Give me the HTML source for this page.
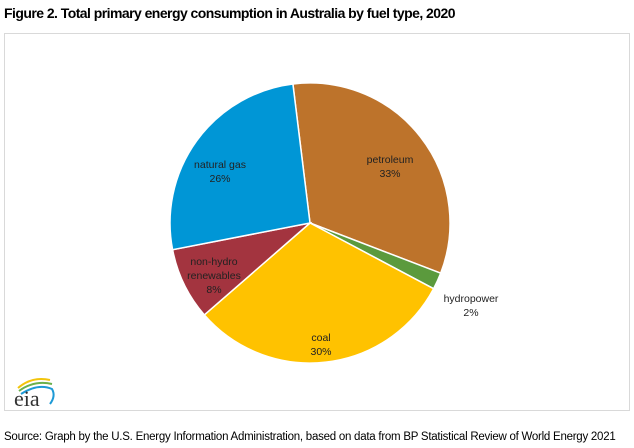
<!DOCTYPE html>
<html><head><style>
body{margin:0;width:634px;height:448px;background:#fff;position:relative;font-family:"Liberation Sans",sans-serif;overflow:hidden}
.t{position:absolute;left:4px;top:5px;font-weight:bold;font-size:14px;letter-spacing:-0.55px;color:#000}
.frame{position:absolute;left:4px;top:33px;width:624px;height:376px;border:1px solid #d9d9d9}
.src{position:absolute;left:4px;top:431px;font-size:11.5px;letter-spacing:-0.25px;color:#000}
</style></head><body>
<div class="t">Figure 2. Total primary energy consumption in Australia by fuel type, 2020</div>
<div class="frame"></div>
<svg width="634" height="448" style="position:absolute;left:0;top:0">
<g stroke="#fff" stroke-width="1.5">
<path d="M310,223 L292.9,84 A140,140 0 0 1 440.7,273.2 Z" fill="#bd732b"/>
<path d="M310,223 L440.7,273.2 A140,140 0 0 1 433.6,288.7 Z" fill="#5b9a3d"/>
<path d="M310,223 L433.6,288.7 A140,140 0 0 1 204.3,314.9 Z" fill="#ffc200"/>
<path d="M310,223 L204.3,314.9 A140,140 0 0 1 172.6,249.7 Z" fill="#a3343f"/>
<path d="M310,223 L172.6,249.7 A140,140 0 0 1 292.9,84 Z" fill="#0096d6"/>
</g>
<g font-family="Liberation Sans,sans-serif" font-size="10.5" text-anchor="middle" fill="#222">
<text x="390" y="163">petroleum</text><text x="390" y="177">33%</text>
<text x="220" y="168">natural gas</text><text x="220" y="182">26%</text>
<text x="214" y="265">non-hydro</text><text x="214" y="279">renewables</text><text x="214" y="293">8%</text>
<text x="321" y="341">coal</text><text x="321" y="355">30%</text>
<text x="471" y="302">hydropower</text><text x="471" y="316">2%</text>
</g>
<path d="M18,388 Q32,376 50,380" stroke="#f2c40c" stroke-width="2" fill="none"/>
<path d="M19,391 Q34,380 52,384" stroke="#6ab04c" stroke-width="2" fill="none"/>
<path d="M21,394 Q38,383 52,389 Q56,396 50,404" stroke="#1e9ad6" stroke-width="2" fill="none"/>
<text x="14" y="406" font-family="Liberation Serif,serif" font-size="22" fill="#333">eia</text>
</svg>
<div class="src">Source: Graph by the U.S. Energy Information Administration, based on data from BP Statistical Review of World Energy 2021</div>
</body></html>
